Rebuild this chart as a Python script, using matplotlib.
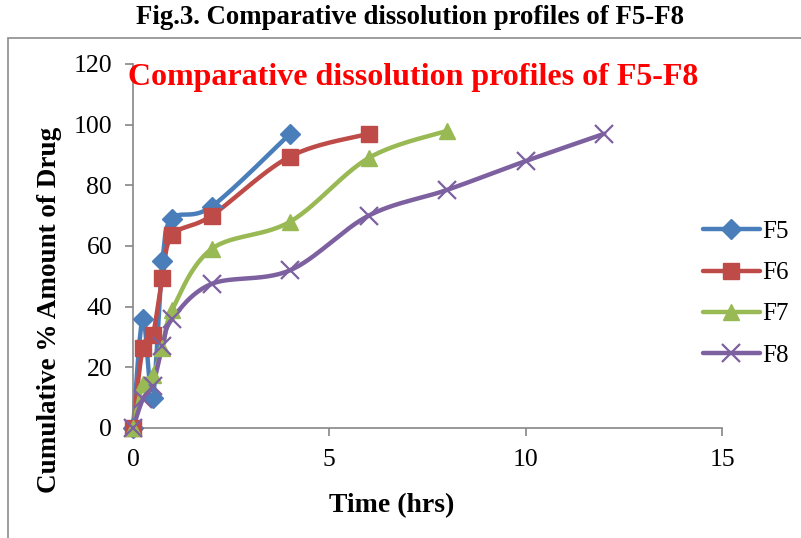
import numpy as np
import matplotlib
matplotlib.use("Agg")
import matplotlib.pyplot as plt
from matplotlib.patches import Rectangle
from matplotlib.lines import Line2D

# Dissolution data (time in hours, cumulative % drug released)
time_f5 = [0, 0.25, 0.5, 0.75, 1, 2, 4]
f5 = [0, 36, 10, 55, 69, 73, 97]

time_f6 = [0, 0.25, 0.5, 0.75, 1, 2, 4, 6]
f6 = [0, 26.5, 30.5, 49.5, 63.5, 70, 89.5, 97]

time_f7 = [0, 0.25, 0.5, 0.75, 1, 2, 4, 6, 8]
f7 = [0, 14.5, 17.5, 26.5, 39, 59, 68, 89, 98]

time_f8 = [0, 0.25, 0.5, 0.75, 1, 2, 4, 6, 8, 10, 12]
f8 = [0, 9.5, 14, 27, 36, 47.5, 52, 70, 78.5, 88, 97]

series_names = ["F5", "F6", "F7", "F8"]
colors = ["#4A7EBB", "#BE4B48", "#98B954", "#7D60A0"]
markers = ["D", "s", "^", "x"]
marker_sizes = [10, 12, 12, 13]

x_ticks = [0, 5, 10, 15]
y_ticks = [0, 20, 40, 60, 80, 100, 120]

plt.rcParams["font.family"] = ["Liberation Serif", "DejaVu Serif"]


def smooth_curve(x, y, n=30):
    """Bezier smoothing through every point (Catmull-Rom style control points)."""
    x = np.asarray(x, float)
    y = np.asarray(y, float)
    pts = np.column_stack([x, y])
    m = len(pts)
    out = [pts[0]]
    t = np.linspace(0, 1, n)[1:, None]
    for i in range(m - 1):
        p0 = pts[i - 1] if i > 0 else pts[i]
        p1 = pts[i]
        p2 = pts[i + 1]
        p3 = pts[i + 2] if i + 2 < m else pts[i + 1]
        c1 = p1 + (p2 - p0) / 6.0
        c2 = p2 - (p3 - p1) / 6.0
        seg = ((1 - t) ** 3) * p1 + 3 * ((1 - t) ** 2) * t * c1 \
            + 3 * (1 - t) * t ** 2 * c2 + t ** 3 * p2
        out.extend(seg)
    out = np.array(out)
    return out[:, 0], out[:, 1]


W, H = 801, 538
fig = plt.figure(figsize=(W / 100, H / 100), dpi=100)

# Chart frame
fig.patches.append(Rectangle((8 / W, -0.01), 1.0, 1 - 38 / H + 0.01,
                             transform=fig.transFigure, fill=False,
                             edgecolor="#8C8C8C", linewidth=1.2))

fig.text(410 / W, 1 - 18 / H, "Fig.3. Comparative dissolution profiles of F5-F8",
         ha="center", va="center", fontsize=19.3, fontweight="bold")

ax = fig.add_axes([133 / W, 1 - 428 / H, (722 - 133) / W, (428 - 64) / H])

all_t = [time_f5, time_f6, time_f7, time_f8]
all_y = [f5, f6, f7, f8]
handles = []
for name, tx, ty, c, mk, ms in zip(series_names, all_t, all_y, colors, markers, marker_sizes):
    sx, sy = smooth_curve(tx, ty)
    ax.plot(sx, sy, color=c, linewidth=3.2, solid_capstyle="round", zorder=2, clip_on=False)
    if mk == "x":
        ax.plot(tx, ty, linestyle="none", marker=mk, markersize=ms, markeredgewidth=1.6,
                color=c, zorder=3, clip_on=False)
    else:
        ax.plot(tx, ty, linestyle="none", marker=mk, markersize=ms, color=c,
                markeredgecolor=c, zorder=3, clip_on=False)
    handles.append(Line2D([0], [0], color=c, linewidth=3.2, marker=mk,
                          markersize=ms, markeredgewidth=1.6 if mk == "x" else 1,
                          solid_capstyle="round"))

ax.set_xlim(0, 15)
ax.set_ylim(0, 120)
ax.set_xticks(x_ticks)
ax.set_yticks(y_ticks)
for side in ("top", "right"):
    ax.spines[side].set_visible(False)
for side in ("left", "bottom"):
    ax.spines[side].set_color("#868686")
    ax.spines[side].set_linewidth(1.2)
ax.tick_params(axis="both", direction="out", length=6, width=1.2, color="#868686",
               labelsize=18.5, pad=9)

fig.text(392 / W, 1 - 506 / H, "Time (hrs)", ha="center", va="center",
         fontsize=20, fontweight="bold")
fig.text(50 / W, 1 - 310 / H, "Cumulative % Amount of Drug", ha="center", va="center",
         rotation=90, fontsize=19.5, fontweight="bold")

fig.text(413 / W, 1 - 77 / H, "Comparative dissolution profiles of F5-F8",
         ha="center", va="center", fontsize=23, fontweight="bold", color="#FF0000")

leg = fig.legend(handles, series_names, loc="upper left",
                 bbox_to_anchor=(680 / W, 1 - 198 / H), frameon=False,
                 fontsize=18, handlelength=2.3, handletextpad=0.1, labelspacing=0.75)

fig.savefig("out.png", dpi=100)
